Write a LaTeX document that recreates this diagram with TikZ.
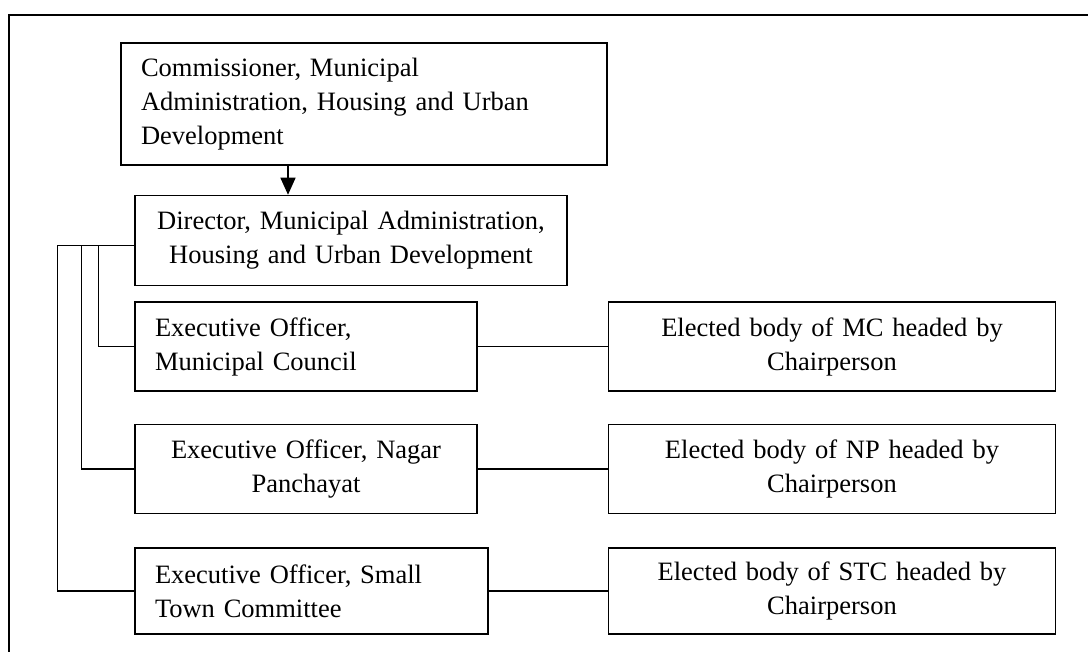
\documentclass[tikz,border=0pt]{standalone}
\usepackage{fontspec}
\setmainfont{Liberation Serif}
\usepackage{tikz}
\usetikzlibrary{positioning,arrows.meta,calc}
\tikzset{%
	block/.style    = {draw, rectangle, line width=1.5pt, inner xsep=20pt,
		inner ysep=0pt, font=\fontsize{26.5}{34}\selectfont}
}

\begin{document}
\begin{tikzpicture}[x=1pt, y=-1pt, line width=1.5pt,
          >={Triangle[length=17pt, width=15pt]}]
        \useasboundingbox (0,0) rectangle (1088,652);
        \draw[line width=2pt] (1088,15) -- (9,15) -- (9,652);
        \draw
        	node at (364,104)[block, name=comm, text width=446pt, minimum height=122pt, align=left]{Commissioner, Municipal\\ Administration, Housing and Urban\\ Development}
        	node [block, below right=29pt and 14pt of comm.south west, text width=392pt, minimum height=90pt, align=center] (dir) {Director, Municipal Administration,\\ Housing and Urban Development}
        	
        	node [block, below right=15pt and 0pt of dir.south west, text width=302pt, minimum height=89pt, align=left] (eomc) {Executive Officer,\\ Municipal Council}
        	node [block, below right=32pt and 0pt of eomc.south west, text width=302pt, minimum height=89pt, align=center] (eonp) {Executive Officer, Nagar\\ Panchayat}
        	node [block, below right=33pt and 0pt of eonp.south west, text width=313pt, minimum height=86pt, align=left] (eostc) {Executive Officer, Small\\ Town Committee}
        	
        	node [block, right=130pt of eomc, text width=407pt, minimum height=89pt, align=center] (elmc) {Elected body of MC headed by\\ Chairperson}
        	node [block, right=130pt of eonp, text width=407pt, minimum height=89pt, align=center] (elnp) {Elected body of NP headed by\\ Chairperson}
        	node [block, right=119pt of eostc, text width=407pt, minimum height=86pt, align=center] (elstc) {Elected body of STC headed by\\ Chairperson};
        	
        	\coordinate (ax) at (288,0);
        	\draw[->] (comm.south -| ax) -- (dir.north -| ax);
        	
        	\draw ([yshift=-5pt]dir.west) -| ([xshift=-36pt]eomc.west) -- (eomc.west);
        	\draw ([yshift=-5pt]dir.west) -| ([xshift=-53pt]eonp.west) -- (eonp.west);
        	\draw ([yshift=-5pt]dir.west) -| ([xshift=-77pt]eostc.west) -- (eostc.west);
        	
        	\draw (eomc) -- (elmc);
        	\draw (eonp) -- (elnp);
        	\draw (eostc) -- (elstc);
    \end{tikzpicture}
\end{document}
